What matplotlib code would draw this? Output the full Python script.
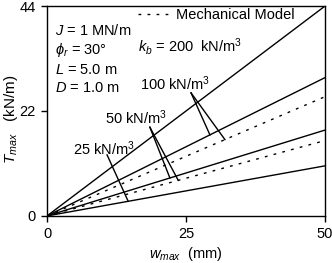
import numpy as np
import matplotlib
matplotlib.use("Agg")
import matplotlib.pyplot as plt

plt.rcParams['font.family'] = ['Liberation Sans', 'DejaVu Sans']
plt.rcParams['mathtext.fontset'] = 'custom'
plt.rcParams['mathtext.rm'] = 'Liberation Sans'
plt.rcParams['mathtext.it'] = 'Liberation Sans:italic'
plt.rcParams['mathtext.fallback'] = 'stixsans'

# data
w = [0, 50]                      # w_max (mm)
kb_solid = [200, 100, 50, 25]    # kN/m^3
T_solid_end = [44.0, 29.0, 18.0, 10.5]   # T_max at w=50 (kN/m)
kb_mech = [100, 50]
T_mech_end = [25.0, 15.8]

xticks = [0, 25, 50]
yticks = [0, 22, 44]

fig = plt.figure(figsize=(3.32, 2.63), dpi=100)
ax = fig.add_axes([0.1416, 0.179, 0.979 - 0.1416, 0.977 - 0.179])

for Te in T_solid_end:
    ax.plot(w, [0, Te], color='black', lw=1.0, solid_capstyle='butt')
for i, Te in enumerate(T_mech_end):
    ax.plot(w, [0, Te], color='black', lw=1.0, linestyle=(0, (2, 4.5)),
            label='Mechanical Model' if i == 0 else None)

ax.set_xlim(0, 50)
ax.set_ylim(0, 44)
ax.set_xticks(xticks)
ax.set_yticks(yticks)
ax.tick_params(direction='out', length=4, width=1, labelsize=10.5, pad=4)
for s in ax.spines.values():
    s.set_linewidth(1.0)

ax.set_xlabel('$w_{max}$  (mm)', fontsize=10.5, labelpad=3)
ax.set_ylabel(r'$T_{max}$   (kN/m)', fontsize=11)
ax.yaxis.set_label_coords(-0.097, 0.46)

fs = 10.5
ax.text(1.4, 38.8, '$J$ = 1 MN/m', fontsize=fs, va='center', ha='left')
ax.text(1.4, 34.8, r'$\phi_r$ = 30°', fontsize=fs, va='center', ha='left')
ax.text(1.4, 30.6, '$L$ = 5.0 m', fontsize=fs, va='center', ha='left')
ax.text(1.4, 26.8, '$D$ = 1.0 m', fontsize=fs, va='center', ha='left')
ax.text(16.4, 35.6, '$k_b$ = 200  kN/m$^3$', fontsize=fs, va='center', ha='left')
ax.text(16.7, 27.7, '100 kN/m$^3$', fontsize=fs, va='center', ha='left')
ax.text(10.4, 20.5, '50 kN/m$^3$', fontsize=fs, va='center', ha='left')
ax.text(4.7, 14.0, '25 kN/m$^3$', fontsize=fs, va='center', ha='left')

def on_line(Tend, x):
    return Tend * x / 50.0

# leaders
leaders = [
    ((25.9, 25.8), (29.3, T_solid_end[1])),
    ((25.9, 25.8), (32.0, T_mech_end[0])),
    ((18.5, 18.6), (22.1, T_solid_end[2])),
    ((18.5, 18.6), (23.6, T_mech_end[1])),
    ((10.8, 12.8), (14.6, T_solid_end[3])),
]
for (x0, y0), (x1, Te) in leaders:
    ax.plot([x0, x1], [y0, on_line(Te, x1)], color='black', lw=1.0)

ax.legend(loc='upper left', bbox_to_anchor=(0.327, 0.99), frameon=False,
          fontsize=fs, handlelength=2.05, handletextpad=0.55,
          borderaxespad=0.0, borderpad=0.0)

fig.savefig('out.png', dpi=100)
